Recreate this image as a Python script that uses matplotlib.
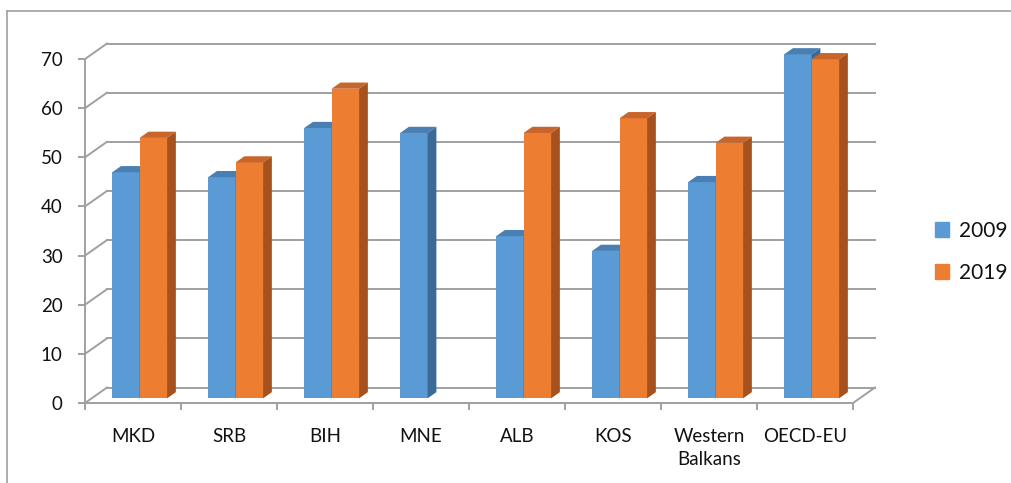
import matplotlib.pyplot as plt
from matplotlib.patches import Polygon
from matplotlib.lines import Line2D
import numpy as np

categories = ['MKD', 'SRB', 'BIH', 'MNE', 'ALB', 'KOS', 'Western\nBalkans', 'OECD-EU']
vals_2009 = [46, 45, 55, 54, 33, 30, 44, 70]
vals_2019 = [53, 48, 63, np.nan, 54, 57, 52, 69]
series_labels = ['2009', '2019']
y_ticks = [0, 10, 20, 30, 40, 50, 60, 70]

plt.rcParams['font.family'] = ['Lato', 'DejaVu Sans']

# pixel layout of the plot box (front plane: x 0..8 -> 85..853 px, y 0..70 -> 403..59 px)
W, H = 1012, 483
px_x = 96.0
px_y = (403 - 59) / 70.0
xlim = (-0.1, 8.4)
ylim = (-1.0, 75.0)
left = 85 + xlim[0] * px_x
right = 85 + xlim[1] * px_x
bottom = 403 - ylim[0] * px_y
top = 403 - ylim[1] * px_y

fig = plt.figure(figsize=(W / 100, H / 100), dpi=100)
ax = fig.add_axes([left / W, (H - bottom) / H, (right - left) / W, (bottom - top) / H])
ax.set_xlim(*xlim)
ax.set_ylim(*ylim)

# depth of the "3D" box in data units
dx_b = 22 / px_x
dy_b = 15.5 / px_y
grid_c = '#a0a0a0'
txt_c = '#111111'

# back wall gridlines + side wall diagonals
for v in y_ticks:
    ax.plot([dx_b, 8 + dx_b], [v + dy_b, v + dy_b], color=grid_c, lw=1.4, zorder=1)
    ax.plot([0, dx_b], [v, v + dy_b], color=grid_c, lw=1.4, zorder=1)
ax.plot([8, 8 + dx_b], [0, dy_b], color=grid_c, lw=1.4, zorder=1)

# bars
n = len(categories)
x = np.arange(n)
bw = 0.286
f0, f1 = 0.3, 0.7
off_x, off_y = f0 * dx_b, f0 * dy_b
ddx, ddy = (f1 - f0) * dx_b, (f1 - f0) * dy_b

styles = [('#5b9bd5', '#4a7fb3', '#3d6a94'), ('#ed7d31', '#c8652a', '#a4521f')]
for i in range(n):
    for k, vals in enumerate([vals_2009, vals_2019]):
        v = vals[i]
        if np.isnan(v):
            continue
        front, topc, side = styles[k]
        xl = x[i] + 0.5 + off_x - bw + k * bw
        xr = xl + bw
        b = off_y
        t = off_y + v
        ax.bar(xl, v, bw, bottom=b, align='edge', color=front, lw=0, zorder=3 + 2 * i + k)
        ax.add_patch(Polygon([(xl, t), (xr, t), (xr + ddx, t + ddy), (xl + ddx, t + ddy)],
                             closed=True, color=topc, lw=0, zorder=3 + 2 * i + k))
        ax.add_patch(Polygon([(xr, b), (xr, t), (xr + ddx, t + ddy), (xr + ddx, b + ddy)],
                             closed=True, color=side, lw=0, zorder=3 + 2 * i + k))

# front axes
for s in ['top', 'right']:
    ax.spines[s].set_visible(False)
ax.spines['left'].set_position(('data', 0))
ax.spines['bottom'].set_position(('data', 0))
ax.spines['left'].set_bounds(0, 70)
ax.spines['bottom'].set_bounds(0, 8)
for s in ['left', 'bottom']:
    ax.spines[s].set_color(grid_c)
    ax.spines[s].set_linewidth(1.4)
    ax.spines[s].set_zorder(2)

ax.set_yticks(y_ticks)
ax.set_yticklabels([str(t) for t in y_ticks])
ax.tick_params(axis='y', length=5, width=1.4, color=grid_c, pad=11,
               labelsize=13.5, labelcolor=txt_c)
ax.set_xticks(np.arange(n + 1))
ax.set_xticklabels([])
ax.set_xticks(x + 0.5, minor=True)
ax.set_xticklabels(categories, minor=True, linespacing=1.45)
ax.tick_params(axis='x', which='major', length=5, width=1.4, color=grid_c)
ax.tick_params(axis='x', which='minor', length=0, pad=18, labelsize=13.5, labelcolor=txt_c)

# legend
handles = [plt.Rectangle((0, 0), 1, 1, color=styles[k][0]) for k in range(2)]
leg = fig.legend(handles, series_labels, loc='center left', frameon=False,
                 bbox_to_anchor=(916 / W, (H - 252) / H), fontsize=15,
                 handlelength=0.7, handleheight=0.7, handletextpad=0.45, labelspacing=1.05)
for t in leg.get_texts():
    t.set_color(txt_c)

# outer frame (left and top edges)
fig.add_artist(Line2D([7 / W, 7 / W], [0, 1 - 11 / H], color='#a0a0a0', lw=1.2))
fig.add_artist(Line2D([7 / W, 1], [1 - 11 / H, 1 - 11 / H], color='#a0a0a0', lw=1.2))

fig.savefig('out.png', dpi=100)
